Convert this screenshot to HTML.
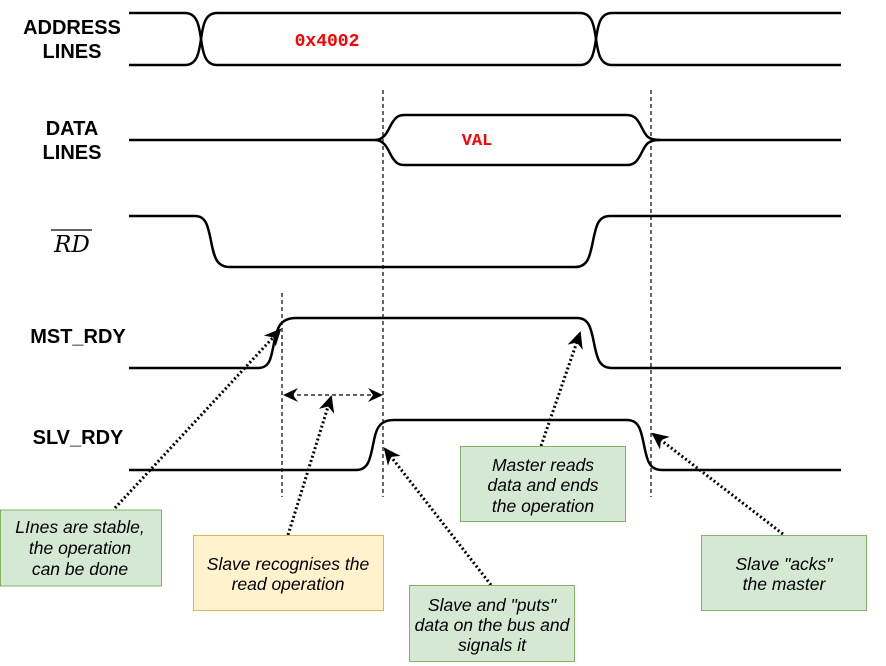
<!DOCTYPE html>
<html><head><meta charset="utf-8"><style>
html,body{margin:0;padding:0;background:#fff;width:886px;height:666px;overflow:hidden}
svg{display:block}
.lbl{font-family:"Liberation Sans",sans-serif;font-weight:bold;font-size:20px;fill:#000}
.box{font-family:"Liberation Sans",sans-serif;font-style:italic;font-size:17.5px;fill:#000}
.sig{fill:none;stroke:#000;stroke-width:2.5}
.dash{stroke:#000;stroke-width:1.2;stroke-dasharray:4,3;fill:none}
.dot{stroke:#000;stroke-width:3;stroke-dasharray:2,2.5;fill:none}
</style></head><body>
<svg width="886" height="666" viewBox="0 0 886 666" xmlns="http://www.w3.org/2000/svg">
<defs>
<marker id="ah" markerWidth="18" markerHeight="16" refX="15" refY="8" orient="auto" markerUnits="userSpaceOnUse">
<path d="M0,0 L17,8 L0,16 L5,8 Z" fill="#000"/></marker>
</defs>
<text class="lbl" x="72" y="34" text-anchor="middle">ADDRESS</text>
<text class="lbl" x="72" y="58" text-anchor="middle">LINES</text>
<text class="lbl" x="72" y="135" text-anchor="middle">DATA</text>
<text class="lbl" x="72" y="159" text-anchor="middle">LINES</text>
<text x="72" y="252" text-anchor="middle" font-family="'DejaVu Serif','Liberation Serif',serif" font-style="italic" font-size="23">RD</text>
<line x1="51" y1="230" x2="92" y2="230" stroke="#000" stroke-width="1.3"/>
<text class="lbl" x="78" y="343" text-anchor="middle">MST_RDY</text>
<text class="lbl" x="78" y="444" text-anchor="middle">SLV_RDY</text>
<path class="sig" d="M129,13 L185,13 C197,13 199,25 201,39 C203,53 205,65 217,65 L580,65 C592,65 594,53 596,39 C598,25 600,13 612,13 L841,13"/>
<path class="sig" d="M129,65 L185,65 C197,65 199,53 201,39 C203,25 205,13 217,13 L580,13 C592,13 594,25 596,39 C598,53 600,65 612,65 L841,65"/>
<text x="327" y="46" text-anchor="middle" font-family="'Liberation Mono',monospace" font-weight="bold" font-size="18" fill="#f00">0x4002</text>
<path class="sig" d="M129,140 L375,140 C385,140 388,130 392,123 C396,117 398,115 405,115 L627,115 C635,115 638,120 642,128 C646,136 648,140 660,140 L841,140"/>
<path class="sig" d="M375,140 C385,140 388,150 392,157 C396,163 398,165 405,165 L627,165 C635,165 638,160 642,152 C646,144 648,140 660,140"/>
<text x="477" y="145" text-anchor="middle" font-family="'Liberation Mono',monospace" font-weight="bold" font-size="17" fill="#f00">VAL</text>
<path class="sig" d="M129,216 L195,216 C206,216 208,226 211,241 C214,256 216,267 230,267 L575,267 C588,267 590,256 593,241 C596,226 598,216 610,216 L841,216"/>
<path class="sig" d="M129,368 L258,368 C270,368 271,358 274,343 C277,328 280,318 296,318 L577,318 C589,318 591,328 594,343 C597,358 599,368 612,368 L841,368"/>
<path class="sig" d="M129,470 L356,470 C368,470 370,460 373,445 C376,430 378,420 394,420 L627,420 C639,420 641,430 644,445 C647,460 649,470 662,470 L841,470"/>
<line class="dash" x1="282" y1="293" x2="282" y2="497"/>
<line class="dash" x1="383" y1="90" x2="383" y2="497"/>
<line class="dash" x1="651" y1="90" x2="651" y2="497"/>
<line class="dash" x1="290" y1="395" x2="376" y2="395"/>
<path d="M283,395 L298,388 L293,395 L298,402 Z" fill="#000"/>
<path d="M383,395 L368,388 L373,395 L368,402 Z" fill="#000"/>
<path class="dot" d="M115,508 L280,330" marker-end="url(#ah)"/>
<path class="dot" d="M288,535 L331,397" marker-end="url(#ah)"/>
<path class="dot" d="M491,585 L385,449" marker-end="url(#ah)"/>
<path class="dot" d="M541,446 L580,333" marker-end="url(#ah)"/>
<path class="dot" d="M783,534 L653,434" marker-end="url(#ah)"/>
<rect x="0.5" y="510" width="161" height="76" fill="#d5e8d4" stroke="#82b366" stroke-width="1"/>
<text class="box" x="80" y="533" text-anchor="middle">LInes are stable,</text>
<text class="box" x="80" y="554" text-anchor="middle">the operation</text>
<text class="box" x="80" y="575" text-anchor="middle">can be done</text>
<rect x="193.5" y="535.5" width="190" height="75" fill="#fff2cc" stroke="#d6b656" stroke-width="1"/>
<text class="box" x="288" y="570" text-anchor="middle">Slave recognises the</text>
<text class="box" x="288" y="590" text-anchor="middle">read operation</text>
<rect x="409.5" y="585.5" width="165" height="76" fill="#d5e8d4" stroke="#82b366" stroke-width="1"/>
<text class="box" x="492" y="611" text-anchor="middle">Slave  and "puts"</text>
<text class="box" x="492" y="631" text-anchor="middle">data on the bus and</text>
<text class="box" x="492" y="651" text-anchor="middle">signals it</text>
<rect x="460.5" y="446.5" width="165" height="75" fill="#d5e8d4" stroke="#82b366" stroke-width="1"/>
<text class="box" x="543" y="471" text-anchor="middle">Master reads</text>
<text class="box" x="543" y="491" text-anchor="middle">data and ends</text>
<text class="box" x="543" y="512" text-anchor="middle">the operation</text>
<rect x="701.5" y="535.5" width="165" height="75" fill="#d5e8d4" stroke="#82b366" stroke-width="1"/>
<text class="box" x="784" y="570" text-anchor="middle">Slave "acks"</text>
<text class="box" x="784" y="590" text-anchor="middle">the master</text>
</svg>
</body></html>
